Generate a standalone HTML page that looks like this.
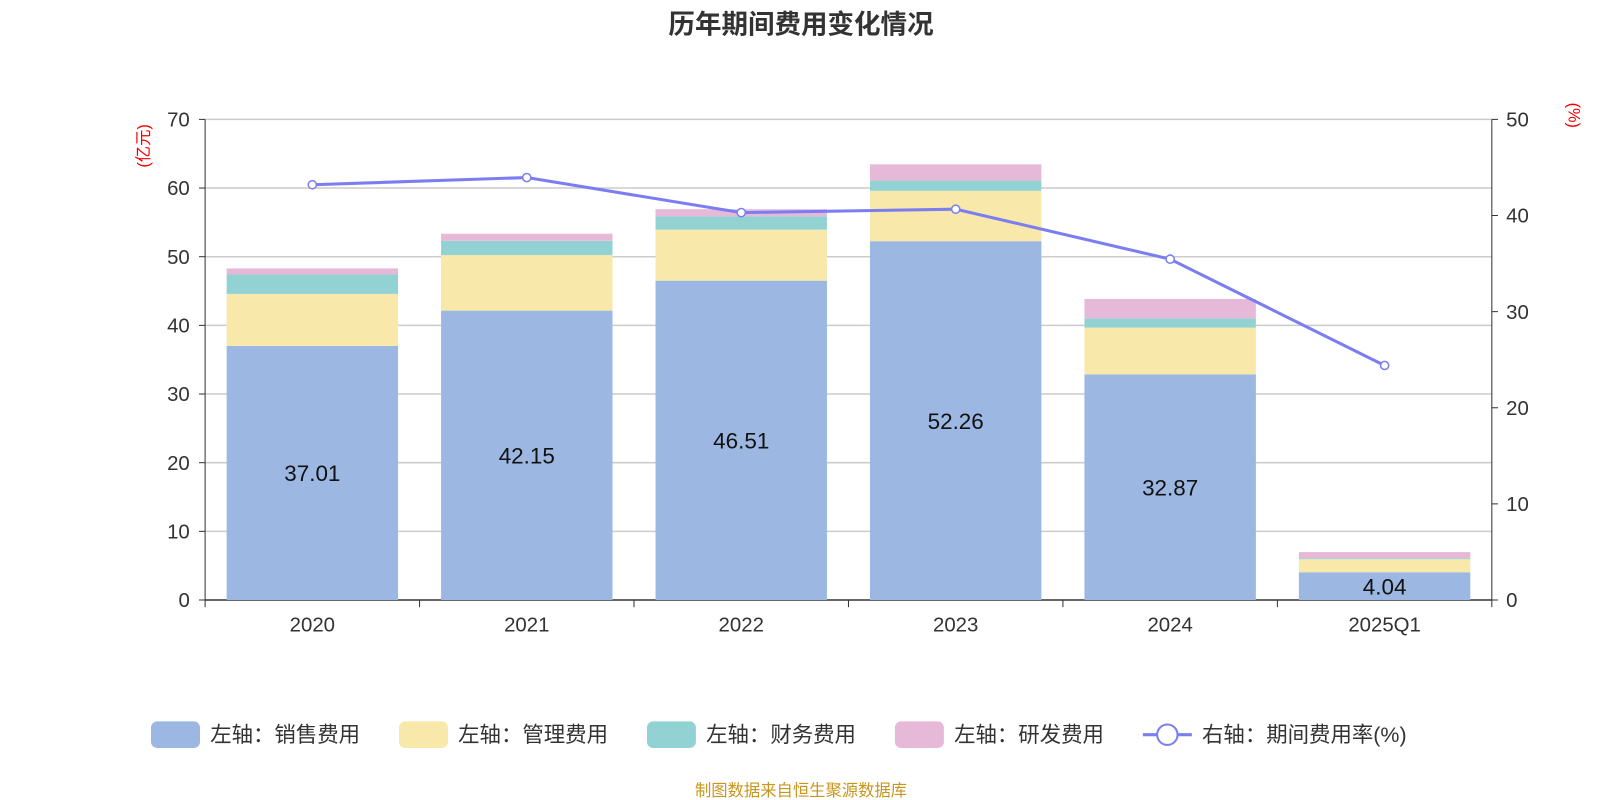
<!DOCTYPE html>
<html><head><meta charset="utf-8">
<style>
html,body{margin:0;padding:0;background:#fff;}
svg{display:block;font-family:"Liberation Sans","Noto Sans CJK SC",sans-serif;}
</style></head>
<body>
<svg id="chart" width="1600" height="800" viewBox="0 0 1568 784" preserveAspectRatio="none">
<text x="785" y="33" text-anchor="middle" font-size="26" font-weight="bold" fill="#333">历年期间费用变化情况</text>
<text transform="translate(146,143) rotate(-90)" text-anchor="middle" font-size="16" fill="#e00">(亿元)</text>
<text transform="translate(1537,113) rotate(90)" text-anchor="middle" font-size="16" fill="#e00">(%)</text>
<g id="grid"></g><g id="bars"></g><g id="axes"></g><g id="line"></g>
<g id="legend"></g>
<text x="785" y="780" text-anchor="middle" font-size="16" fill="#c8961e">制图数据来自恒生聚源数据库</text>
</svg>
<script>
const categories=["2020","2021","2022","2023","2024","2025Q1"];
const sales=[37.01,42.15,46.51,52.26,32.87,4.04];
const mgmt=[7.57,8.08,7.43,7.33,6.81,1.9];
const finance=[2.83,2.08,1.94,1.49,1.34,0.15];
const rd=[0.89,1.04,1.04,2.38,2.82,0.89];
const rate=[43.2,43.95,40.3,40.66,35.46,24.4];
const leftTicks=[0,10,20,30,40,50,60,70];
const rightTicks=[0,10,20,30,40,50];
const NS="http://www.w3.org/2000/svg";
const x0=201,x1=1462,yB=588,yT=117;
const bw=(x1-x0)/categories.length;
const yL=v=>yB-(v/70)*(yB-yT);
const yR=v=>yB-(v/50)*(yB-yT);
const xc=i=>x0+bw*(i+0.5);
function mk(tag,attrs,parent,txt){const e=document.createElementNS(NS,tag);for(const k in attrs)e.setAttribute(k,attrs[k]);if(txt!==undefined)e.textContent=txt;document.getElementById(parent).appendChild(e);return e;}
leftTicks.forEach(t=>{
 const g=mk('line',{x1:x0,x2:x1,y1:yL(t),y2:yL(t),stroke:t===0?'#333':'#ccc','stroke-width':1.5},'grid');
 
 
 const l=mk('text',{x:186,y:yL(t)+7,'text-anchor':'end','font-size':20,fill:'#333'},'axes',t);
 
 
 mk('line',{x1:195,x2:201,y1:yL(t),y2:yL(t),stroke:'#333'},'axes');
});
rightTicks.forEach(t=>{
 const l=mk('text',{x:1476,y:yR(t)+7,'font-size':20,fill:'#333'},'axes',t);
 
 
 mk('line',{x1:1462,x2:1468,y1:yR(t),y2:yR(t),stroke:'#333'},'axes');
});
mk('line',{x1:x0,x2:x0,y1:yT,y2:yB,stroke:'#333'},'axes');
mk('line',{x1:x1,x2:x1,y1:yT,y2:yB,stroke:'#333'},'axes');
for(let i=0;i<=categories.length;i++)mk('line',{x1:x0+bw*i,x2:x0+bw*i,y1:yB,y2:yB+7,stroke:'#333'},'axes');
const series=[[sales,'#9bb7e2','sales'],[mgmt,'#f8e8a9','mgmt'],[finance,'#93d2d3','finance'],[rd,'#e6b9d9','rd']];
categories.forEach((c,i)=>{
 let acc=0;
 series.forEach(([arr,col,nm])=>{
  const r=mk('rect',{x:xc(i)-84,width:168,y:yL(acc+arr[i]),height:yL(acc)-yL(acc+arr[i]),fill:col},'bars');
  
  
  acc+=arr[i];
 });
 const v=mk('text',{x:xc(i),y:(yL(sales[i])+yB)/2+8,'text-anchor':'middle','font-size':22,fill:'#111'},'bars',sales[i].toFixed(2));
 
 
 const t=mk('text',{x:xc(i),y:619,'text-anchor':'middle','font-size':20,fill:'#333'},'axes',c);
 
 
});
const pl=mk('polyline',{points:rate.map((v,i)=>xc(i)+','+yR(v)).join(' '),fill:'none',stroke:'#7b7ef0','stroke-width':3},'line');


rate.forEach((v,i)=>{
 const p=mk('circle',{cx:xc(i),cy:yR(v),r:4,fill:'#fff',stroke:'#7b7ef0','stroke-width':1.5},'line');
 
 
});
const leg=[['左轴：销售费用','#9bb7e2',148],['左轴：管理费用','#f8e8a9',391],['左轴：财务费用','#93d2d3',634],['左轴：研发费用','#e6b9d9',877]];
leg.forEach(([t,c,x])=>{
 const r=mk('rect',{x:x,y:707,width:48,height:26,rx:6,fill:c},'legend');
 
 
 const tx=mk('text',{x:x+58,y:727,'font-size':21,fill:'#333'},'legend',t);
 
 
});
mk('line',{x1:1120,x2:1168,y1:720,y2:720,stroke:'#7b7ef0','stroke-width':3},'legend');
mk('circle',{cx:1144,cy:720,r:10,fill:'#fff',stroke:'#7b7ef0','stroke-width':2},'legend');
const lt=mk('text',{x:1178,y:727,'font-size':21,fill:'#333'},'legend','右轴：期间费用率(%)');


</script>
</body></html>
